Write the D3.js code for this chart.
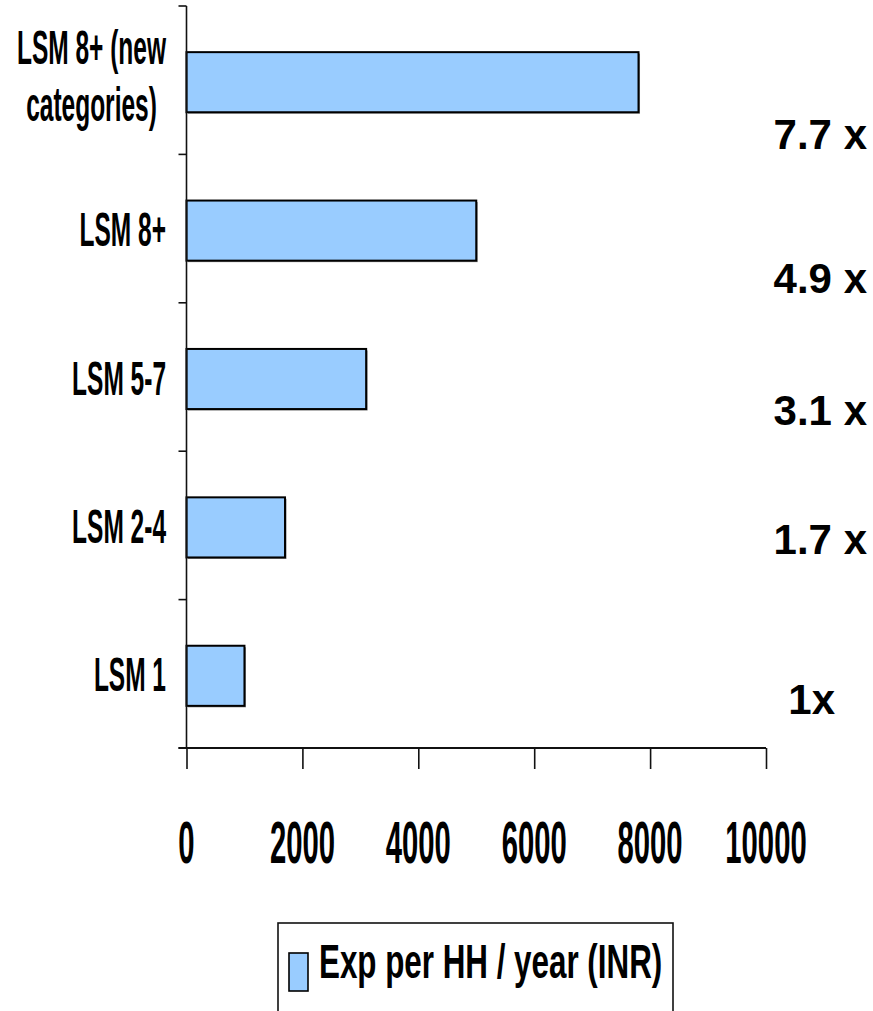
<!DOCTYPE html>
<html>
<head>
<meta charset="utf-8">
<script src="https://cdn.jsdelivr.net/npm/d3@7"></script>
<style>
  html, body { margin: 0; padding: 0; background: #fff; }
  svg { display: block; }
  text { font-family: "Liberation Sans", Arial, Helvetica, sans-serif; font-weight: bold; fill: #000; }
</style>
</head>
<body>
<svg id="chart" width="873" height="1011"></svg>
<script>
// Household expenditure by LSM group
const categories = ["LSM 8+ (new categories)", "LSM 8+", "LSM 5-7", "LSM 2-4", "LSM 1"];
const categoryLines = [["LSM 8+ (new", "categories)"], ["LSM 8+"], ["LSM 5-7"], ["LSM 2-4"], ["LSM 1"]];
const expPerHH = [7800, 5000, 3100, 1700, 1000];
const ratioLabels = ["7.7 x", "4.9 x", "3.1 x", "1.7 x", "1x"];
const xTicks = [0, 2000, 4000, 6000, 8000, 10000];
const seriesName = "Exp per HH / year (INR)";

// Layout
const plot = { left: 186.5, right: 766, top: 6, bottom: 748 };
const barFill = "#99CCFF";
// baseline offset of each ratio label from its band centre, and its right edge
const ratioLayout = [
  { dy: 69, right: 867 }, { dy: 64, right: 867 }, { dy: 48, right: 867 },
  { dy: 29, right: 867 }, { dy: 40, right: 835 }
];

const svg = d3.select("#chart");

const x = d3.scaleLinear().domain([0, 10000]).range([plot.left, plot.right]);
const y = d3.scaleBand().domain(categories).range([plot.top, plot.bottom]).padding(0);
const step = y.step();
const barH = step * 0.405;
const barY = c => y(c) + (step - barH) / 2 + 2;

// Bars with a faint drop shadow
const bars = svg.append("g");
bars.selectAll("rect.shadow")
  .data(categories)
  .join("rect")
  .attr("class", "shadow")
  .attr("x", x(0) + 1.5)
  .attr("y", c => barY(c) + 1.5)
  .attr("width", (c, i) => x(expPerHH[i]) - x(0))
  .attr("height", barH)
  .attr("fill", "#8a8a8a");
bars.selectAll("rect.bar")
  .data(categories)
  .join("rect")
  .attr("class", "bar")
  .attr("x", x(0))
  .attr("y", c => barY(c))
  .attr("width", (c, i) => x(expPerHH[i]) - x(0))
  .attr("height", barH)
  .attr("fill", barFill)
  .attr("stroke", "#000")
  .attr("stroke-width", 2);

// Category axis (left), ticks at band boundaries
const yAxis = svg.append("g");
yAxis.append("line")
  .attr("x1", plot.left).attr("x2", plot.left)
  .attr("y1", plot.top).attr("y2", plot.bottom)
  .attr("stroke", "#111").attr("stroke-width", 1.6);
const boundaries = categories.map(c => y(c)).concat([plot.bottom]);
yAxis.selectAll("line.tick")
  .data(boundaries)
  .join("line")
  .attr("class", "tick")
  .attr("x1", plot.left - 8).attr("x2", plot.left)
  .attr("y1", d => d).attr("y2", d => d)
  .attr("stroke", "#111").attr("stroke-width", 1.6);

// Value axis (bottom)
const xAxisG = svg.append("g").attr("transform", `translate(0,${plot.bottom})`);
xAxisG.call(d3.axisBottom(x).tickValues(xTicks).tickSize(21).tickFormat(""));
xAxisG.select(".domain").attr("stroke", "#111").attr("stroke-width", 2)
  .attr("d", `M${plot.left - 8},0H${plot.right}`);
xAxisG.selectAll(".tick line").attr("stroke", "#111").attr("stroke-width", 1.6);

// Condensed tick labels
const tickLbl = svg.append("g");
tickLbl.selectAll("g")
  .data(xTicks)
  .join("g")
  .attr("transform", d => `translate(${x(d)},863) scale(0.5,1)`)
  .append("text")
  .attr("text-anchor", "middle")
  .style("font-size", "58.5px")
  .text(d => d);

// Category labels (condensed; multi-line labels centred on their widest line)
const labelRight = 166;
const lineGap = 57;
categories.forEach((c, i) => {
  const lines = categoryLines[i];
  const cy = y(c) + step / 2;
  const firstBase = cy + 17.5 - (lines.length - 1) * lineGap / 2 + (lines.length > 1 ? -5 : 0);
  const sx = 0.5;
  const g = svg.append("g");
  const texts = lines.map((ln, k) =>
    g.append("g")
      .attr("transform", `translate(0,${firstBase + k * lineGap}) scale(${sx},1)`)
      .append("text")
      .style("font-size", "49px")
      .text(ln));
  const widths = texts.map(t => t.node().getComputedTextLength() * sx);
  const maxW = d3.max(widths);
  if (lines.length === 1) {
    texts[0].attr("text-anchor", "end").attr("x", labelRight / sx);
  } else {
    const cx = labelRight - maxW / 2;
    texts.forEach(t => t.attr("text-anchor", "middle").attr("x", cx / sx));
  }
});

// Multiples relative to LSM 1
svg.append("g").selectAll("text")
  .data(ratioLabels)
  .join("text")
  .attr("x", (d, i) => ratioLayout[i].right)
  .attr("y", (d, i) => y(categories[i]) + step / 2 + ratioLayout[i].dy)
  .attr("text-anchor", "end")
  .style("font-size", "42px")
  .text(d => d);

// Legend
const legend = svg.append("g");
legend.append("rect")
  .attr("x", 278).attr("y", 923)
  .attr("width", 395).attr("height", 100)
  .attr("fill", "#fff").attr("stroke", "#111").attr("stroke-width", 1.6);
legend.append("rect")
  .attr("x", 289).attr("y", 953)
  .attr("width", 19).attr("height", 38)
  .attr("fill", barFill).attr("stroke", "#000").attr("stroke-width", 1.6);
legend.append("g")
  .attr("transform", "translate(319,978) scale(0.64,1)")
  .append("text")
  .style("font-size", "49px")
  .text(seriesName);
</script>
</body>
</html>
